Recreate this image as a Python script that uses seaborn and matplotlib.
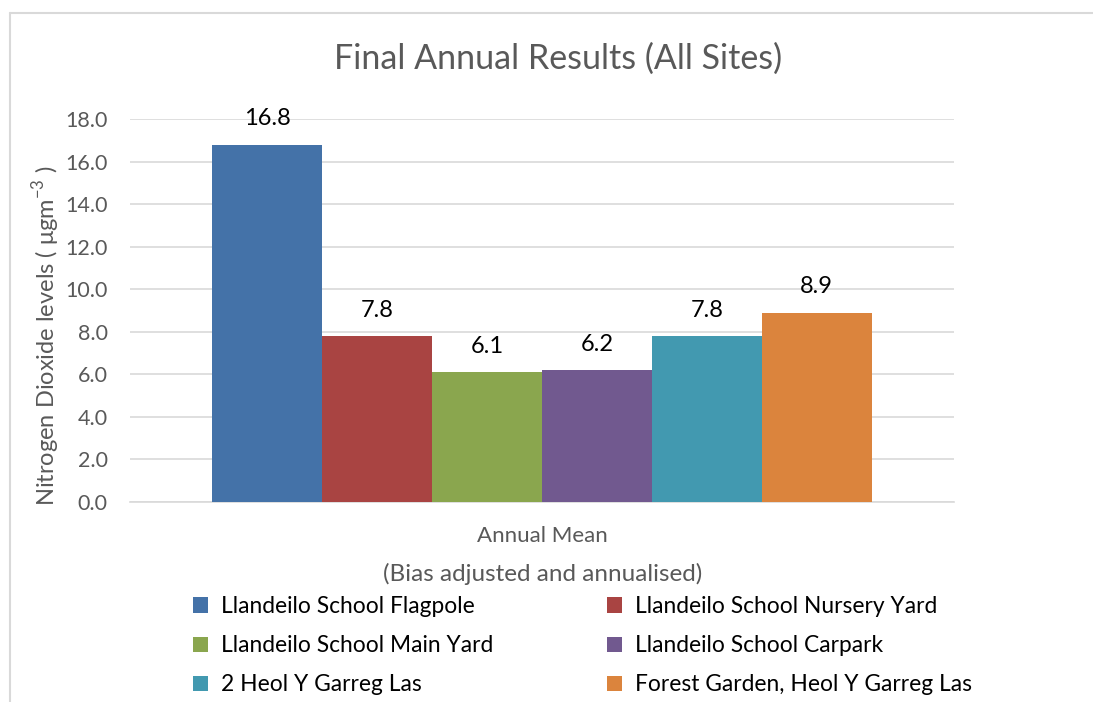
import matplotlib
matplotlib.use("Agg")
import matplotlib.pyplot as plt
from matplotlib.patches import Patch
from matplotlib.lines import Line2D
import seaborn as sns
import pandas as pd

sites = [
    "Llandeilo School Flagpole",
    "Llandeilo School Nursery Yard",
    "Llandeilo School Main Yard",
    "Llandeilo School Carpark",
    "2 Heol Y Garreg Las",
    "Forest Garden, Heol Y Garreg Las",
]
values = [16.8, 7.8, 6.1, 6.2, 7.8, 8.9]
category = "Annual Mean"
colors = ["#4472A8", "#A94442", "#8AA64E", "#71598F", "#4299B0", "#DB843D"]
yticks = [0, 2, 4, 6, 8, 10, 12, 14, 16, 18]

df = pd.DataFrame({"period": [category] * len(sites), "site": sites, "value": values})

sns.set_theme(style="white")
plt.rcParams["font.family"] = ["Lato", "DejaVu Sans"]

fig = plt.figure(figsize=(10.93, 7.02), dpi=100)
ax = fig.add_axes([0.119, 0.285, 0.754, 0.5455])

sns.barplot(data=df, x="period", y="value", hue="site", hue_order=sites,
            palette=colors, width=0.8, gap=0, saturation=1, legend=False,
            edgecolor="none", linewidth=0, ax=ax, zorder=3)

ax.set_xlim(-0.5, 0.5)
ax.set_ylim(0, 18)
ax.set_yticks(yticks)
ax.set_yticklabels([f"{v:.1f}" for v in yticks], fontsize=15.5, color="#595959")
ax.tick_params(axis="y", length=0, pad=16)
ax.tick_params(axis="x", length=0, pad=17.5, labelsize=16, labelcolor="#595959")
ax.grid(axis="y", color="#D9D9D9", linewidth=1.2, zorder=0)
for s in ["top", "right", "left"]:
    ax.spines[s].set_visible(False)
ax.spines["bottom"].set_color("#D9D9D9")
ax.spines["bottom"].set_linewidth(1.2)

ax.set_xlabel("(Bias adjusted and annualised)", fontsize=17.5, color="#595959", labelpad=12)
ax.set_ylabel("Nitrogen Dioxide levels ( μgm$^{\\mathregular{-3}}$ )", fontsize=17,
              color="#595959", labelpad=4)
ax.yaxis.set_label_coords(-0.082, 0.433)

for bar, v in zip(ax.patches, values):
    ax.annotate(f"{v:.1f}", (bar.get_x() + bar.get_width() / 2, bar.get_height()),
                xytext=(0, 11), textcoords="offset points", ha="center", va="bottom",
                fontsize=17, color="black")

fig.text(0.511, 0.917, "Final Annual Results (All Sites)", ha="center", va="center",
         fontsize=24.5, color="#595959")

# legend laid out row by row in two columns
order = [0, 2, 4, 1, 3, 5]
handles = [Patch(facecolor=colors[i], edgecolor="none") for i in order]
labels = [sites[i] for i in order]
fig.legend(handles, labels, ncol=2, loc="upper left", bbox_to_anchor=(0.1766, 0.151),
           frameon=False, fontsize=16.4, handlelength=0.66, handleheight=0.66,
           handletextpad=0.57, columnspacing=5.0, labelspacing=0.8,
           borderpad=0, borderaxespad=0, labelcolor="black")

# outer chart border
fig.add_artist(Line2D([0.0092, 0.0092], [0.0, 0.9815], transform=fig.transFigure,
                      color="#D9D9D9", linewidth=1.5))
fig.add_artist(Line2D([0.0092, 1.0], [0.9815, 0.9815], transform=fig.transFigure,
                      color="#D9D9D9", linewidth=1.5))

fig.savefig("out.png", dpi=100)
